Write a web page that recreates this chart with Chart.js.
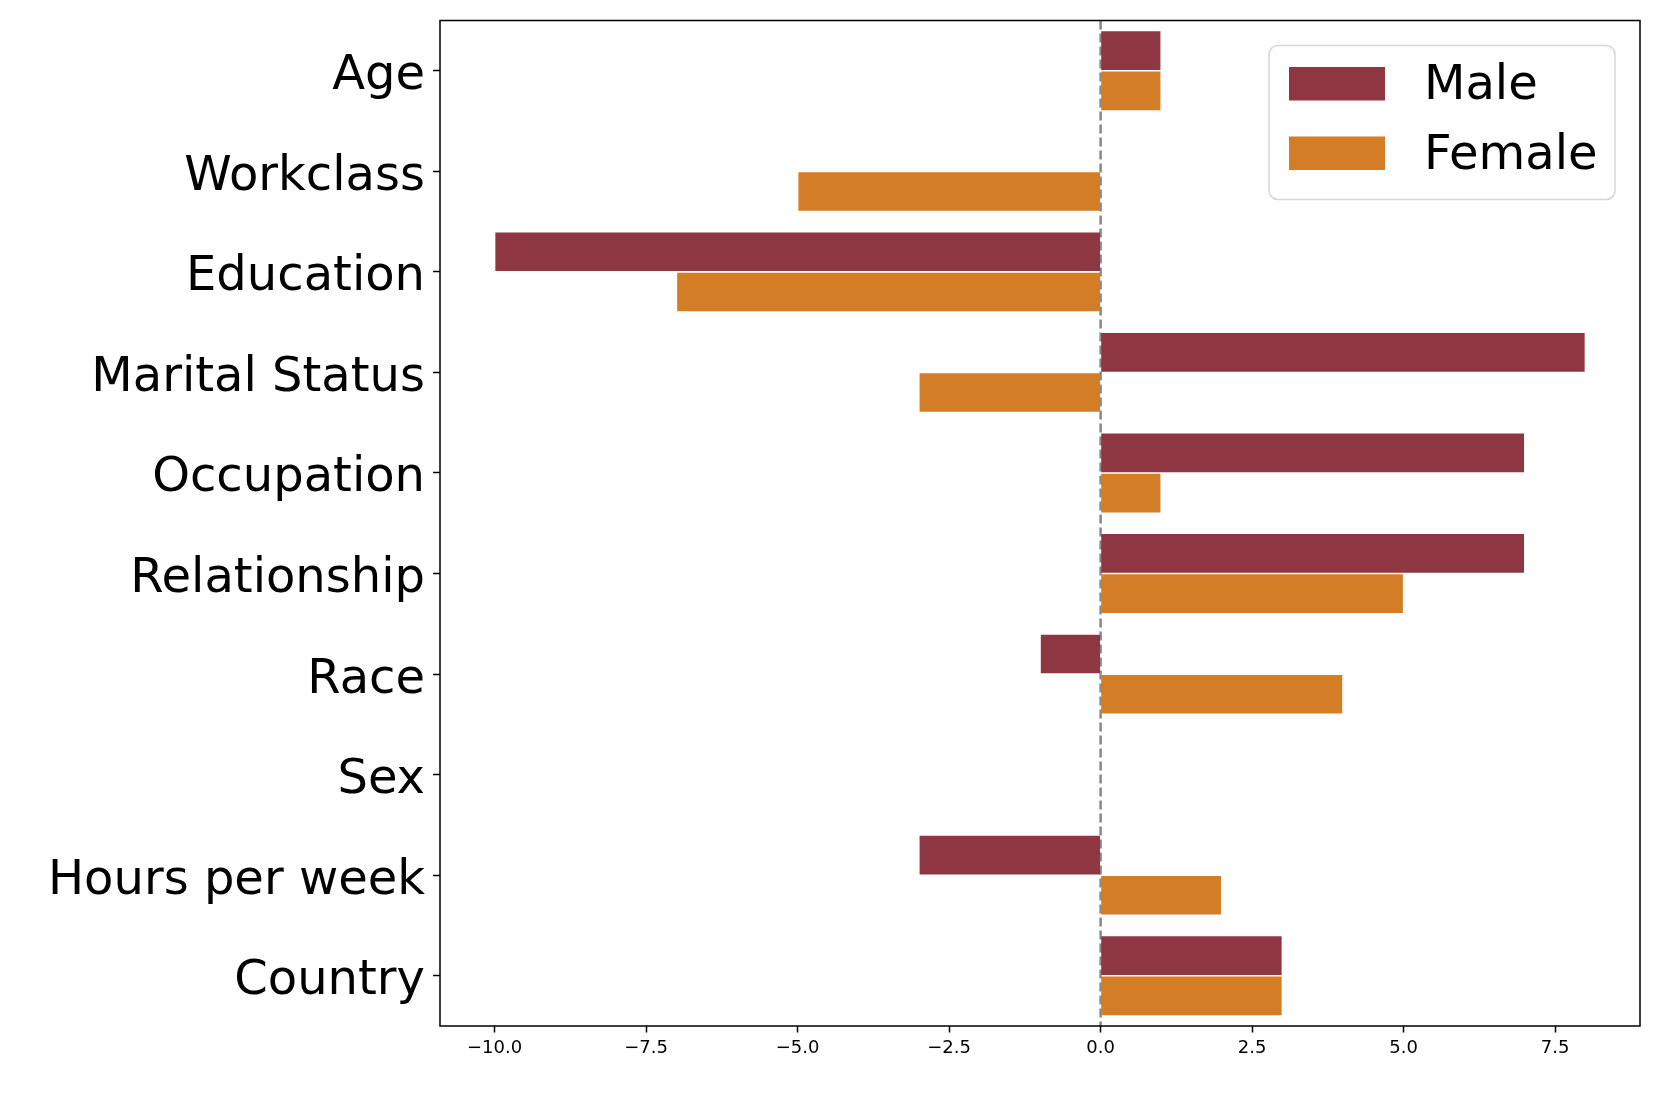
<!DOCTYPE html>
<html>
<head>
<meta charset="utf-8">
<script src="https://cdn.jsdelivr.net/npm/chart.js@4.4.0/dist/chart.umd.min.js"></script>
<style>
  html, body { margin: 0; padding: 0; background: #fff; }
  #wrap { width: 1661px; height: 1107px; position: relative; }
</style>
</head>
<body>
<div id="wrap"><canvas id="barChart"></canvas></div>
<script>
const categories = ['Age', 'Workclass', 'Education', 'Marital Status', 'Occupation',
  'Relationship', 'Race', 'Sex', 'Hours per week', 'Country'];
const maleValues = [1, 0, -10, 8, 7, 7, -1, 0, -3, 3];
const femaleValues = [1, -5, -7, -3, 1, 5, 4, 0, 2, 3];
const xTicks = [-10, -7.5, -5, -2.5, 0, 2.5, 5, 7.5];

const FONT = "'DejaVu Sans', sans-serif";

// dashed line at zero + frame around the axes
const framePlugin = {
  id: 'frame',
  beforeDatasetsDraw(chart) {
    const { ctx, chartArea } = chart;
    const x0 = chart.scales.x.getPixelForValue(0);
    ctx.save();
    ctx.strokeStyle = '#888888';
    ctx.lineWidth = 2.5;
    ctx.setLineDash([9, 4]);
    ctx.beginPath();
    ctx.moveTo(x0, chartArea.top);
    ctx.lineTo(x0, chartArea.bottom);
    ctx.stroke();
    ctx.restore();
  },
  afterDatasetsDraw(chart) {
    const { ctx, chartArea } = chart;
    ctx.save();
    ctx.strokeStyle = '#000';
    ctx.lineWidth = 1.5;
    ctx.strokeRect(chartArea.left, chartArea.top,
      chartArea.right - chartArea.left, chartArea.bottom - chartArea.top);
    ctx.restore();
  }
};

// legend drawn inside the plot, top right
const innerLegend = {
  id: 'innerLegend',
  afterDraw(chart) {
    const { ctx, chartArea } = chart;
    const bx = chartArea.right - 371, by = chartArea.top + 25;
    const bw = 346, bh = 154, r = 9;
    ctx.save();
    ctx.fillStyle = 'rgba(255,255,255,0.8)';
    ctx.strokeStyle = '#d6d6d6';
    ctx.lineWidth = 1.5;
    ctx.beginPath();
    ctx.roundRect(bx, by, bw, bh, r);
    ctx.fill();
    ctx.stroke();
    ctx.font = '48px ' + FONT;
    ctx.textBaseline = 'middle';
    chart.data.datasets.forEach((ds, i) => {
      const hy = by + 21.5 + i * 69.5;
      ctx.fillStyle = ds.backgroundColor;
      ctx.fillRect(bx + 20, hy, 96, 33.5);
      ctx.fillStyle = '#000';
      ctx.fillText(ds.label, bx + 155, hy + 20);
    });
    ctx.restore();
  }
};

const ctx = document.getElementById('barChart').getContext('2d');
new Chart(ctx, {
  type: 'bar',
  data: {
    labels: categories,
    datasets: [{
      label: 'Male',
      data: maleValues,
      backgroundColor: '#8e3641',
      borderColor: 'rgba(255,255,255,0.45)',
      borderWidth: 0.8,
      categoryPercentage: 0.8,
      barPercentage: 1.0
    }, {
      label: 'Female',
      data: femaleValues,
      backgroundColor: '#d37d27',
      borderColor: 'rgba(255,255,255,0.45)',
      borderWidth: 0.8,
      categoryPercentage: 0.8,
      barPercentage: 1.0
    }]
  },
  options: {
    indexAxis: 'y',
    responsive: true,
    maintainAspectRatio: false,
    animation: false,
    layout: { padding: { top: 20.5, right: 21, left: 0, bottom: 0 } },
    plugins: {
      legend: { display: false },
      tooltip: { enabled: false }
    },
    scales: {
      x: {
        type: 'linear',
        min: -10.9,
        max: 8.9,
        afterBuildTicks(scale) {
          scale.ticks = xTicks.map(v => ({ value: v }));
        },
        afterFit(scale) {
          scale.height = 81;
          scale.paddingLeft = 0;
          scale.paddingRight = 0;
        },
        border: { display: false },
        grid: {
          drawOnChartArea: false,
          drawTicks: true,
          tickLength: 6.5,
          tickColor: '#000',
          tickWidth: 1.5
        },
        ticks: {
          color: '#000',
          padding: 5,
          maxRotation: 0,
          font: { family: FONT, size: 18 },
          callback: v => v.toFixed(1).replace('-', '\u2212')
        }
      },
      y: {
        offset: true,
        afterFit(scale) {
          scale.width = 440;
          scale.paddingTop = 0;
          scale.paddingBottom = 0;
        },
        border: { display: false },
        grid: {
          offset: false,
          drawOnChartArea: false,
          drawTicks: true,
          tickLength: 7,
          tickColor: '#000',
          tickWidth: 1.5
        },
        ticks: {
          color: '#000',
          padding: 8,
          labelOffset: 6,
          autoSkip: false,
          font: { family: FONT, size: 48 }
        }
      }
    }
  },
  plugins: [framePlugin, innerLegend]
});
</script>
</body>
</html>
